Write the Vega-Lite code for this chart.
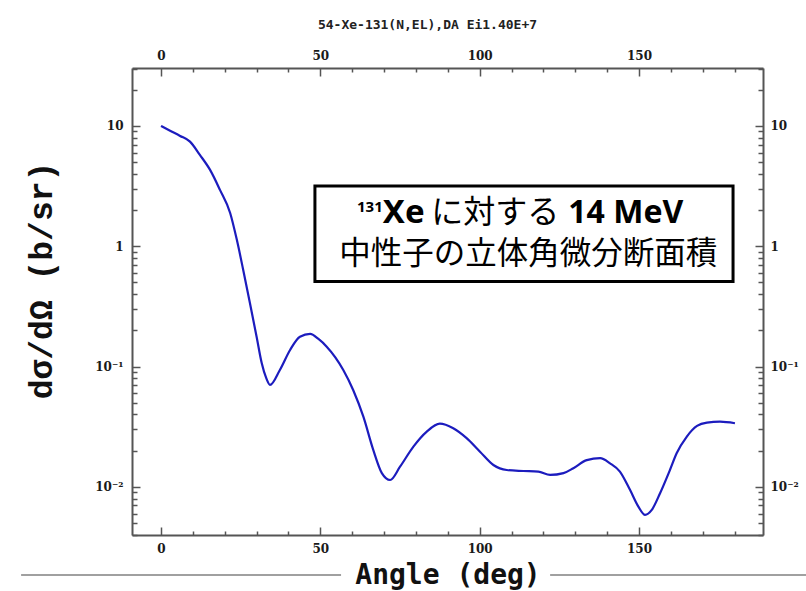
{
  "$schema": "https://vega.github.io/schema/vega-lite/v6.json",
  "width": 631,
  "height": 467,
  "autosize": "none",
  "padding": {"left": 132, "top": 68, "right": 43, "bottom": 56},
  "background": "white",
  "config": {"view": {"stroke": null}},
  "title": {
    "text": "54-Xe-131(N,EL),DA Ei1.40E+7",
    "font": "DejaVu Sans Mono",
    "fontSize": 13,
    "fontWeight": "bold",
    "color": "#222222",
    "anchor": "middle",
    "offset": 13,
    "dx": -20
  },
  "data": {"values": [{}]},
  "datasets": {
    "xs": [
      {"angle": 0, "dsdo": 10.0},
      {"angle": 3, "dsdo": 9.08},
      {"angle": 6, "dsdo": 8.26},
      {"angle": 9.1, "dsdo": 7.40},
      {"angle": 12.2, "dsdo": 5.74},
      {"angle": 15.4, "dsdo": 4.31},
      {"angle": 18.5, "dsdo": 2.94},
      {"angle": 21.7, "dsdo": 1.89},
      {"angle": 23.8, "dsdo": 1.13},
      {"angle": 25.8, "dsdo": 0.635},
      {"angle": 27.9, "dsdo": 0.338},
      {"angle": 30.0, "dsdo": 0.177},
      {"angle": 31.6, "dsdo": 0.107},
      {"angle": 33.0, "dsdo": 0.0804},
      {"angle": 34.2, "dsdo": 0.0703},
      {"angle": 37.3, "dsdo": 0.0937},
      {"angle": 40.5, "dsdo": 0.1374},
      {"angle": 43.6, "dsdo": 0.177},
      {"angle": 46.8, "dsdo": 0.1866},
      {"angle": 49.4, "dsdo": 0.1696},
      {"angle": 52.0, "dsdo": 0.1463},
      {"angle": 57.2, "dsdo": 0.0937},
      {"angle": 60.3, "dsdo": 0.0639},
      {"angle": 63.5, "dsdo": 0.0383},
      {"angle": 66.6, "dsdo": 0.0203},
      {"angle": 69.3, "dsdo": 0.0130},
      {"angle": 71.9, "dsdo": 0.0114},
      {"angle": 75.0, "dsdo": 0.0147},
      {"angle": 79.2, "dsdo": 0.0216},
      {"angle": 83.4, "dsdo": 0.0288},
      {"angle": 87.5, "dsdo": 0.0335},
      {"angle": 91.7, "dsdo": 0.0307},
      {"angle": 95.9, "dsdo": 0.0254},
      {"angle": 100.1, "dsdo": 0.0196},
      {"angle": 104.3, "dsdo": 0.0152},
      {"angle": 108.5, "dsdo": 0.0138},
      {"angle": 113.7, "dsdo": 0.01355},
      {"angle": 118.4, "dsdo": 0.01338},
      {"angle": 122.1, "dsdo": 0.01256},
      {"angle": 126.3, "dsdo": 0.0130},
      {"angle": 129.4, "dsdo": 0.0143},
      {"angle": 133.6, "dsdo": 0.0167},
      {"angle": 137.8, "dsdo": 0.0173},
      {"angle": 140.9, "dsdo": 0.0157},
      {"angle": 144.0, "dsdo": 0.0134},
      {"angle": 147.2, "dsdo": 0.0094},
      {"angle": 149.8, "dsdo": 0.00685},
      {"angle": 151.9, "dsdo": 0.00584},
      {"angle": 154.0, "dsdo": 0.00643},
      {"angle": 156.6, "dsdo": 0.00885},
      {"angle": 159.7, "dsdo": 0.0138},
      {"angle": 161.8, "dsdo": 0.0190},
      {"angle": 165.0, "dsdo": 0.0262},
      {"angle": 168.2, "dsdo": 0.0321},
      {"angle": 171.3, "dsdo": 0.0342},
      {"angle": 175.4, "dsdo": 0.0348},
      {"angle": 180.1, "dsdo": 0.0338}
    ]
  },
  "layer": [
    {
      "data": {"name": "xs"},
      "mark": {"type": "line", "color": "#1c1cbe", "strokeWidth": 2.2, "interpolate": "monotone"},
      "encoding": {
        "x": {
          "field": "angle", "type": "quantitative",
          "scale": {"domain": [-9.1, 188.9], "nice": false, "zero": false},
          "axis": {
            "orient": "bottom",
            "values": [0, 10, 20, 30, 40, 50, 60, 70, 80, 90, 100, 110, 120, 130, 140, 150, 160, 170, 180],
            "labelExpr": "datum.value % 50 == 0 ? datum.label : ''",
            "labelFont": "DejaVu Serif", "labelFontSize": 12, "labelFontWeight": "bold", "labelColor": "#1a1a1a",
            "labelPadding": 16, "labelOverlap": false, "labelFlush": false, "labelBound": false,
            "tickSize": {"condition": {"test": "datum.value % 50 == 0", "value": -8}, "value": -4},
            "tickColor": "#555555", "tickWidth": 1.5,
            "domainColor": "#555555", "domainWidth": 2, "grid": false,
            "title": "Angle (deg)",
            "titleFont": "DejaVu Sans Mono", "titleFontSize": 28, "titleFontWeight": "bold", "titleColor": "#111111",
            "titlePadding": 3
          }
        },
        "y": {
          "field": "dsdo", "type": "quantitative",
          "scale": {"type": "log", "domain": [0.00398, 30.3], "nice": false},
          "axis": {
            "orient": "left",
            "values": [0.004, 0.005, 0.006, 0.007, 0.008, 0.009, 0.01, 0.02, 0.03, 0.04, 0.05, 0.06, 0.07, 0.08, 0.09, 0.1, 0.2, 0.3, 0.4, 0.5, 0.6, 0.7, 0.8, 0.9, 1, 2, 3, 4, 5, 6, 7, 8, 9, 10, 20, 30],
            "labelExpr": "datum.value == 10 ? '10' : datum.value == 1 ? '1' : datum.value == 0.1 ? '10⁻¹' : datum.value == 0.01 ? '10⁻²' : ''",
            "labelFont": "DejaVu Serif", "labelFontSize": 12, "labelFontWeight": "bold", "labelColor": "#1a1a1a",
            "labelPadding": 17, "labelOverlap": false, "labelFlush": false, "labelBound": false,
            "tickSize": {"condition": {"test": "datum.value == 10 || datum.value == 1 || datum.value == 0.1 || datum.value == 0.01", "value": -8}, "value": -5},
            "tickColor": "#555555", "tickWidth": 1.5,
            "domainColor": "#555555", "domainWidth": 2, "grid": false,
            "title": "dσ/dΩ (b/sr)",
            "titleFont": "Liberation Mono", "titleFontSize": 33, "titleFontWeight": "bold", "titleColor": "#111111",
            "titleX": -91, "titleY": 212, "titleAngle": 270, "titleBaseline": "middle", "titleAlign": "center"
          }
        }
      }
    },
    {
      "mark": {"type": "rect", "fill": "white", "stroke": "black", "strokeWidth": 3},
      "encoding": {
        "x": {
          "datum": 48.3, "type": "quantitative",
          "scale": {"domain": [-9.1, 188.9], "nice": false, "zero": false},
          "axis": {
            "orient": "top",
            "values": [0, 10, 20, 30, 40, 50, 60, 70, 80, 90, 100, 110, 120, 130, 140, 150, 160, 170, 180],
            "labelExpr": "datum.value % 50 == 0 ? datum.label : ''",
            "labelFont": "DejaVu Serif", "labelFontSize": 12, "labelFontWeight": "bold", "labelColor": "#1a1a1a",
            "labelPadding": 14, "labelOverlap": false, "labelFlush": false, "labelBound": false,
            "tickSize": {"condition": {"test": "datum.value % 50 == 0", "value": -8}, "value": -4},
            "tickColor": "#555555", "tickWidth": 1.5,
            "domainColor": "#555555", "domainWidth": 2, "grid": false,
            "title": null
          }
        },
        "x2": {"datum": 179.5},
        "y": {
          "datum": 3.17, "type": "quantitative",
          "scale": {"type": "log", "domain": [0.00398, 30.3], "nice": false},
          "axis": {
            "orient": "right",
            "values": [0.004, 0.005, 0.006, 0.007, 0.008, 0.009, 0.01, 0.02, 0.03, 0.04, 0.05, 0.06, 0.07, 0.08, 0.09, 0.1, 0.2, 0.3, 0.4, 0.5, 0.6, 0.7, 0.8, 0.9, 1, 2, 3, 4, 5, 6, 7, 8, 9, 10, 20, 30],
            "labelExpr": "datum.value == 10 ? '10' : datum.value == 1 ? '1' : datum.value == 0.1 ? '10⁻¹' : datum.value == 0.01 ? '10⁻²' : ''",
            "labelFont": "DejaVu Serif", "labelFontSize": 12, "labelFontWeight": "bold", "labelColor": "#1a1a1a",
            "labelPadding": 15, "labelOverlap": false, "labelFlush": false, "labelBound": false,
            "tickSize": {"condition": {"test": "datum.value == 10 || datum.value == 1 || datum.value == 0.1 || datum.value == 0.01", "value": -8}, "value": -5},
            "tickColor": "#555555", "tickWidth": 1.5,
            "domainColor": "#555555", "domainWidth": 2, "grid": false,
            "title": null
          }
        },
        "y2": {"datum": 0.508}
      }
    },
    {
      "mark": {"type": "text", "text": "131", "font": "Noto Sans", "fontSize": 15, "fontWeight": "bold", "align": "left", "baseline": "alphabetic", "color": "black"},
      "encoding": {
        "x": {"datum": 61.5, "type": "quantitative", "scale": {"domain": [-9.1, 188.9], "nice": false, "zero": false}, "axis": null},
        "y": {"datum": 1.928, "type": "quantitative", "scale": {"type": "log", "domain": [0.00398, 30.3], "nice": false}, "axis": null}
      }
    },
    {
      "mark": {"type": "text", "text": "Xe", "font": "Noto Sans", "fontSize": 33, "fontWeight": "bold", "align": "left", "baseline": "alphabetic", "color": "black"},
      "encoding": {
        "x": {"datum": 69.6, "type": "quantitative", "scale": {"domain": [-9.1, 188.9], "nice": false, "zero": false}, "axis": null},
        "y": {"datum": 1.562, "type": "quantitative", "scale": {"type": "log", "domain": [0.00398, 30.3], "nice": false}, "axis": null}
      }
    },
    {
      "mark": {"type": "text", "text": "に対する", "font": "Noto Sans CJK JP", "fontSize": 32, "fontWeight": "normal", "align": "left", "baseline": "alphabetic", "color": "black"},
      "encoding": {
        "x": {"datum": 84.8, "type": "quantitative", "scale": {"domain": [-9.1, 188.9], "nice": false, "zero": false}, "axis": null},
        "y": {"datum": 1.562, "type": "quantitative", "scale": {"type": "log", "domain": [0.00398, 30.3], "nice": false}, "axis": null}
      }
    },
    {
      "mark": {"type": "text", "text": "14 MeV", "font": "Noto Sans", "fontSize": 32, "fontWeight": "bold", "align": "left", "baseline": "alphabetic", "color": "black"},
      "encoding": {
        "x": {"datum": 127.8, "type": "quantitative", "scale": {"domain": [-9.1, 188.9], "nice": false, "zero": false}, "axis": null},
        "y": {"datum": 1.562, "type": "quantitative", "scale": {"type": "log", "domain": [0.00398, 30.3], "nice": false}, "axis": null}
      }
    },
    {
      "mark": {"type": "text", "text": "中性子の立体角微分断面積", "font": "Noto Sans CJK JP", "fontSize": 31.5, "fontWeight": "normal", "align": "center", "baseline": "alphabetic", "color": "black"},
      "encoding": {
        "x": {"datum": 115.2, "type": "quantitative", "scale": {"domain": [-9.1, 188.9], "nice": false, "zero": false}, "axis": null},
        "y": {"datum": 0.713, "type": "quantitative", "scale": {"type": "log", "domain": [0.00398, 30.3], "nice": false}, "axis": null}
      }
    },
    {
      "mark": {"type": "rule", "color": "#808080", "strokeWidth": 1.5, "clip": false},
      "encoding": {
        "x": {"datum": -43.9, "type": "quantitative", "scale": {"domain": [-9.1, 188.9], "nice": false, "zero": false}, "axis": null},
        "x2": {"datum": 56.5},
        "y": {"datum": 0.001852, "type": "quantitative", "scale": {"type": "log", "domain": [0.00398, 30.3], "nice": false}, "axis": null}
      }
    },
    {
      "mark": {"type": "rule", "color": "#808080", "strokeWidth": 1.5, "clip": false},
      "encoding": {
        "x": {"datum": 122.1, "type": "quantitative", "scale": {"domain": [-9.1, 188.9], "nice": false, "zero": false}, "axis": null},
        "x2": {"datum": 202.4},
        "y": {"datum": 0.001852, "type": "quantitative", "scale": {"type": "log", "domain": [0.00398, 30.3], "nice": false}, "axis": null}
      }
    }
  ],
  "resolve": {"scale": {"x": "shared", "y": "shared"}, "axis": {"x": "independent", "y": "independent"}}
}
